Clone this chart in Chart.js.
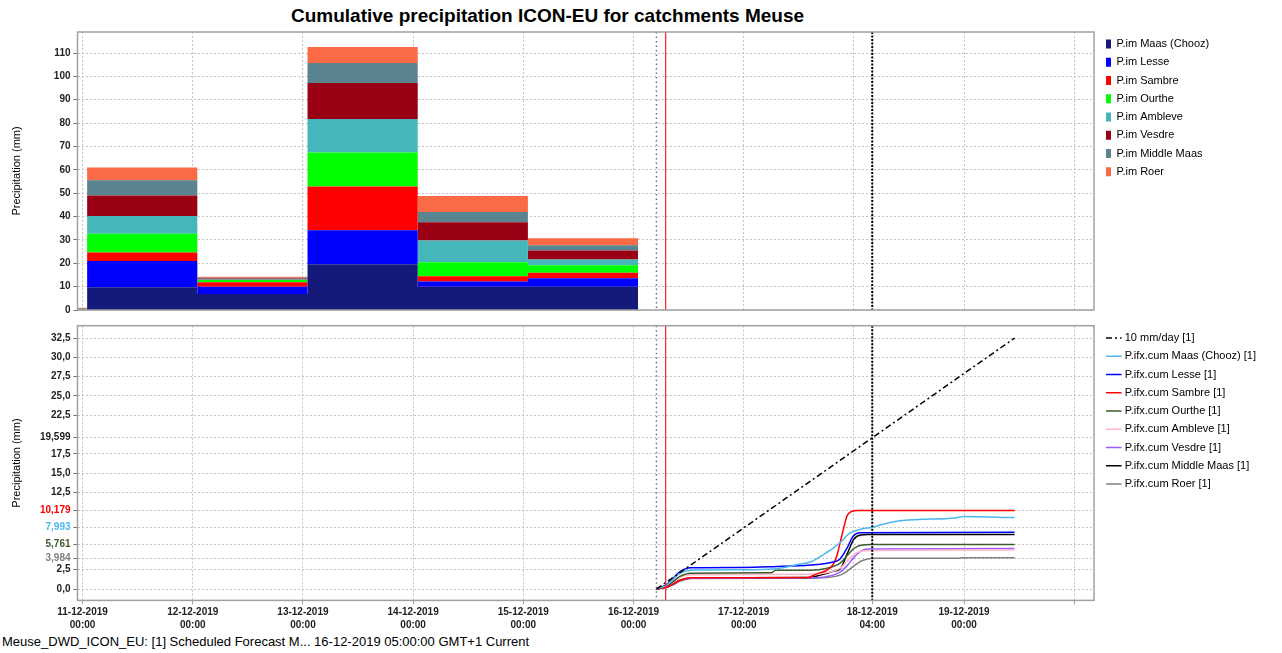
<!DOCTYPE html>
<html><head><meta charset="utf-8">
<script src="https://cdn.jsdelivr.net/npm/chart.js"></script>
<style>
html,body{margin:0;padding:0;background:#fff;}
body{width:1282px;height:653px;position:relative;overflow:hidden;font-family:'Liberation Sans',Arial,sans-serif;}
#title{position:absolute;left:0;top:5px;width:1095px;text-align:center;font-weight:bold;font-size:19px;line-height:22px;color:#000;}
#upper{position:absolute;left:0;top:30px;}
#lower{position:absolute;left:0;top:324px;}
#footer{position:absolute;left:2px;top:634px;font-size:13px;line-height:16px;color:#000;white-space:nowrap;}
</style></head>
<body>
<div id="title">Cumulative precipitation ICON-EU for catchments Meuse</div>
<canvas id="upper" width="1282" height="288"></canvas>
<canvas id="lower" width="1282" height="309"></canvas>
<div id="footer">Meuse_DWD_ICON_EU: [1] Scheduled Forecast M... 16-12-2019 05:00:00 GMT+1 Current</div>
<script>
// ---------- DATA (hours since 11-12-2019 00:00) ----------
const xTickHours = [0, 24, 48, 72, 96, 120, 144, 168, 172, 192, 216];
const xTickLabels = [
  ['11-12-2019', '00:00'], ['12-12-2019', '00:00'], ['13-12-2019', '00:00'],
  ['14-12-2019', '00:00'], ['15-12-2019', '00:00'], ['16-12-2019', '00:00'],
  ['17-12-2019', '00:00'], '', ['18-12-2019', '04:00'], ['19-12-2019', '00:00'], ''
];
const markerHours = [125, 127, 172]; // forecast start, current time, cursor

// upper panel: daily precipitation per catchment
const upperNames = ['P.im Maas (Chooz)', 'P.im Lesse', 'P.im Sambre', 'P.im Ourthe',
  'P.im Ambleve', 'P.im Vesdre', 'P.im Middle Maas', 'P.im Roer'];
const barPeriodStart = [-2, 1, 25, 49, 73, 97];
const barPeriodEnd = 121;
const pimMaas      = [0.0, 9.7, 6.8, 19.6, 9.9, 9.9];
const pimLesse     = [0.0, 11.3, 3.1, 14.5, 2.3, 3.7];
const pimSambre    = [0.1, 3.6, 2.0, 18.8, 2.3, 2.3];
const pimOurthe    = [0.3, 8.0, 0.9, 14.5, 5.9, 3.3];
const pimAmbleve   = [0.1, 7.6, 0.3, 14.4, 9.4, 2.4];
const pimVesdre    = [0.1, 8.8, 0.4, 15.4, 7.8, 3.9];
const pimMiddle    = [0.1, 6.5, 0.3, 8.5, 4.4, 2.2];
const pimRoer      = [0.3, 5.5, 0.4, 6.9, 6.8, 3.0];
const upperSeries = [pimMaas, pimLesse, pimSambre, pimOurthe, pimAmbleve, pimVesdre, pimMiddle, pimRoer];
const upperTickValues = [0, 10, 20, 30, 40, 50, 60, 70, 80, 90, 100, 110];

// lower panel: cumulative forecast [hour, mm]
const lowerNames = ['10 mm/day [1]', 'P.ifx.cum Maas (Chooz) [1]', 'P.ifx.cum Lesse [1]',
  'P.ifx.cum Sambre [1]', 'P.ifx.cum Ourthe [1]', 'P.ifx.cum Ambleve [1]',
  'P.ifx.cum Vesdre [1]', 'P.ifx.cum Middle Maas [1]', 'P.ifx.cum Roer [1]'];
const tenMmPerDay = [[125, 0], [203, 32.5]];
const cumMaas = [[125,0.1],[127,0.4],[128.5,1.2],[130,2.0],[132.5,2.45],[144,2.5],[150.5,2.6],[156,3.2],[158.5,3.5],[162,4.7],[165,6.0],[167,7.2],[169.5,7.75],[172,8.0],[175,8.5],[178,8.85],[182,9.0],[190,9.2],[192,9.38],[203,9.25]];
const cumLesse = [[125,0.1],[127,0.5],[128.5,1.3],[130,2.2],[132.5,2.75],[144,2.8],[150.5,2.9],[158.5,3.1],[163.5,3.5],[165,3.9],[166.5,5.3],[167.8,6.8],[169.3,7.3],[203,7.35]];
const cumSambre = [[125,0.05],[127,0.2],[128.5,0.6],[130,1.1],[132.5,1.45],[158,1.5],[160,2.0],[162,2.4],[163.5,3.2],[164.3,4.3],[165,6.0],[165.7,7.7],[166.5,9.45],[167.3,10.0],[169,10.18],[203,10.18]];
const cumOurthe = [[125,0.05],[127,0.3],[128.5,0.9],[130,1.6],[132.5,2.05],[150,2.1],[151,2.45],[158.5,2.45],[162,2.67],[165,3.35],[166.5,4.3],[168,5.25],[169.5,5.68],[172,5.76],[203,5.76]];
const cumAmbleve = [[125,0.05],[127,0.3],[128.5,0.8],[130,1.5],[132.5,1.85],[158.5,1.9],[162,2.1],[165,2.7],[166.5,3.6],[168,4.5],[169.5,4.9],[172,5.0],[203,5.05]];
const cumVesdre = [[125,0.05],[127,0.2],[128.5,0.6],[130,1.1],[132.5,1.4],[158.5,1.45],[162,1.6],[165,2.2],[166.5,3.0],[168,4.1],[169.5,4.9],[171,5.2],[203,5.25]];
const cumMiddle = [[125,0.05],[127,0.2],[128.5,0.6],[130,1.1],[132.5,1.42],[158.5,1.5],[160,1.7],[162,2.0],[163.5,2.3],[165,2.6],[166.5,4.5],[168,6.45],[169.5,7.0],[171,7.05],[203,7.05]];
const cumRoer = [[125,0.05],[127,0.2],[128.5,0.5],[130,1.0],[132.5,1.38],[158.5,1.4],[162,1.5],[165,1.8],[166.5,2.3],[168,3.0],[169.5,3.6],[171,3.9],[173,3.98],[191,3.98],[191.5,4.05],[203,4.05]];
const lowerSeries = [tenMmPerDay, cumMaas, cumLesse, cumSambre, cumOurthe, cumAmbleve, cumVesdre, cumMiddle, cumRoer];
const lowerTickValues = [0, 2.5, 3.984, 5.761, 7.993, 10.179, 12.5, 15, 17.5, 19.599, 22.5, 25, 27.5, 30, 32.5];
const lowerTickLabels = ['0,0', '2,5', '3,984', '5,761', '7,993', '10,179', '12,5', '15,0', '17,5', '19,599', '22,5', '25,0', '27,5', '30,0', '32,5'];

// ---------- STYLES ----------
const upperColors = ['#15197a', '#0000ff', '#ff0000', '#00ff00', '#45b6b9', '#990014', '#5a8590', '#f96a45'];
const lowerColors = ['#000000', '#4cb8ee', '#0000ff', '#ff0000', '#3d5a2a', '#ffb6c8', '#9b5cff', '#000000', '#808080'];
const lowerDashes = [[6, 3, 2, 3], [], [], [], [], [], [], [], []];
const lowerTickColors = ['#222', '#222', '#808080', '#3d5a2a', '#4cb8ee', '#ff0000', '#222', '#222', '#222', '#222', '#222', '#222', '#222', '#222', '#222'];
const markerStyles = [
  { color: '#707070', width: 1.5, dash: [1.5, 3] },
  { color: '#ff2a2a', width: 1.3, dash: [] },
  { color: '#000000', width: 2, dash: [2, 1.5] }
];

Chart.defaults.font.family = "'Liberation Sans', Arial, sans-serif";
Chart.defaults.color = '#222';

const xMin = -1.1, xMax = 220.3;
const gridColor = '#c4c4c4';

function xScale(showLabels) {
  return {
    type: 'linear', min: xMin, max: xMax,
    afterBuildTicks: s => { s.ticks = xTickHours.map(v => ({ value: v })); },
    grid: { color: gridColor, drawTicks: showLabels, tickLength: 4, tickColor: '#a0a0a0', tickBorderDash: [] },
    border: { display: false, dash: [2, 2] },
    ticks: {
      display: showLabels, autoSkip: false, maxRotation: 0, minRotation: 0, padding: 1,
      color: '#222', font: { size: 10, weight: 'bold', lineHeight: 1.3 },
      callback: (v, i) => xTickLabels[i]
    }
  };
}
function yScale(opts) {
  return Object.assign({
    type: 'linear',
    afterFit: s => { s.width = 77.5; s.paddingTop = opts.padTop; s.paddingBottom = 0; },
    grid: { color: gridColor, drawTicks: true, tickLength: 4, tickColor: '#707070', tickBorderDash: [] },
    border: { display: false, dash: [2, 2] },
    title: { display: true, text: 'Precipitation (mm)', color: '#000', font: { size: 11 }, padding: { top: 10.4, bottom: 0 } }
  }, opts.extra);
}

function legendFix(width, shift) {
  return {
    id: 'legendFix',
    beforeLayout(chart) {
      const lg = chart.legend;
      if (lg && !lg.__fixed) {
        const fit = lg.fit;
        lg.fit = function () { fit.call(this); this.width = width; };
        lg.__fixed = true;
      }
    },
    afterLayout(chart) {
      const lg = chart.legend;
      if (lg) { lg.left += shift; lg.right += shift; }
    }
  };
}

const markersAndFrame = {
  id: 'markersAndFrame',
  afterDatasetsDraw(chart) {
    const { ctx, chartArea: a, scales: { x } } = chart;
    ctx.save();
    ctx.beginPath(); ctx.rect(a.left, a.top, a.width, a.height); ctx.clip();
    markerHours.forEach((h, i) => {
      const st = markerStyles[i];
      const px = x.getPixelForValue(h);
      ctx.strokeStyle = st.color; ctx.lineWidth = st.width; ctx.setLineDash(st.dash);
      ctx.beginPath(); ctx.moveTo(px, a.top); ctx.lineTo(px, a.bottom); ctx.stroke();
    });
    ctx.restore();
    ctx.save();
    ctx.strokeStyle = '#a0a0a0'; ctx.lineWidth = 1.5; ctx.setLineDash([]);
    ctx.strokeRect(a.left, a.top, a.width, a.height);
    ctx.restore();
  }
};

// ---------- UPPER CHART ----------
new Chart(document.getElementById('upper'), {
  type: 'line',
  data: {
    datasets: upperSeries.map((vals, i) => ({
      label: upperNames[i],
      data: barPeriodStart.map((h, j) => ({ x: h, y: vals[j] })).concat([{ x: barPeriodEnd, y: 0 }]),
      backgroundColor: upperColors[i], borderColor: upperColors[i], borderWidth: 0,
      fill: i === 0 ? 'origin' : '-1', stepped: 'before', pointRadius: 0, pointHoverRadius: 0
    }))
  },
  options: {
    responsive: false, animation: false, events: [],
    layout: { padding: { top: 1.25, bottom: 8, left: 0, right: 0 } },
    scales: {
      x: xScale(false),
      y: yScale({ padTop: 2, extra: {
        stacked: true, min: 0, max: 119,
        afterBuildTicks: s => { s.ticks = upperTickValues.map(v => ({ value: v })); },
        ticks: { autoSkip: false, padding: 3, color: '#222', font: { size: 10, weight: 'bold' }, callback: v => String(v) }
      } })
    },
    plugins: {
      legend: {
        position: 'right', align: 'start',
        labels: { boxWidth: 5, boxHeight: 9, padding: 7.25, color: '#000', font: { size: 11 } }
      },
      tooltip: { enabled: false }
    }
  },
  plugins: [legendFix(188, 4.75), markersAndFrame]
});

// ---------- LOWER CHART ----------
new Chart(document.getElementById('lower'), {
  type: 'line',
  data: {
    datasets: lowerSeries.map((pts, i) => ({
      label: lowerNames[i],
      data: pts.map(p => ({ x: p[0], y: p[1] })),
      borderColor: lowerColors[i], backgroundColor: lowerColors[i],
      borderWidth: 1.5, borderDash: lowerDashes[i], fill: false,
      cubicInterpolationMode: 'monotone', pointRadius: 0, pointHoverRadius: 0, pointStyle: 'line'
    }))
  },
  options: {
    responsive: false, animation: false, events: [],
    layout: { padding: { top: 1.25, bottom: 0.6, left: 0, right: 0 } },
    scales: {
      x: xScale(true),
      y: yScale({ padTop: 1.7, extra: {
        min: -1.47, max: 34.1,
        afterBuildTicks: s => { s.ticks = lowerTickValues.map(v => ({ value: v })); },
        ticks: {
          autoSkip: false, padding: 3, font: { size: 10, weight: 'bold' },
          color: c => lowerTickColors[c.index] || '#222',
          callback: (v, i) => lowerTickLabels[i]
        }
      } })
    },
    plugins: {
      legend: {
        position: 'right', align: 'start',
        labels: {
          usePointStyle: true, boxWidth: 12, boxHeight: 11, padding: 7.25, color: '#000', font: { size: 11 },
          generateLabels: chart => chart.data.datasets.map((ds, i) => ({
            text: ds.label, fillStyle: ds.borderColor, strokeStyle: ds.borderColor,
            lineWidth: ds.borderWidth, lineDash: ds.borderDash || [], pointStyle: 'line',
            hidden: false, datasetIndex: i, fontColor: '#000'
          }))
        }
      },
      tooltip: { enabled: false }
    }
  },
  plugins: [legendFix(188, 7), markersAndFrame]
});
</script>
</body></html>
